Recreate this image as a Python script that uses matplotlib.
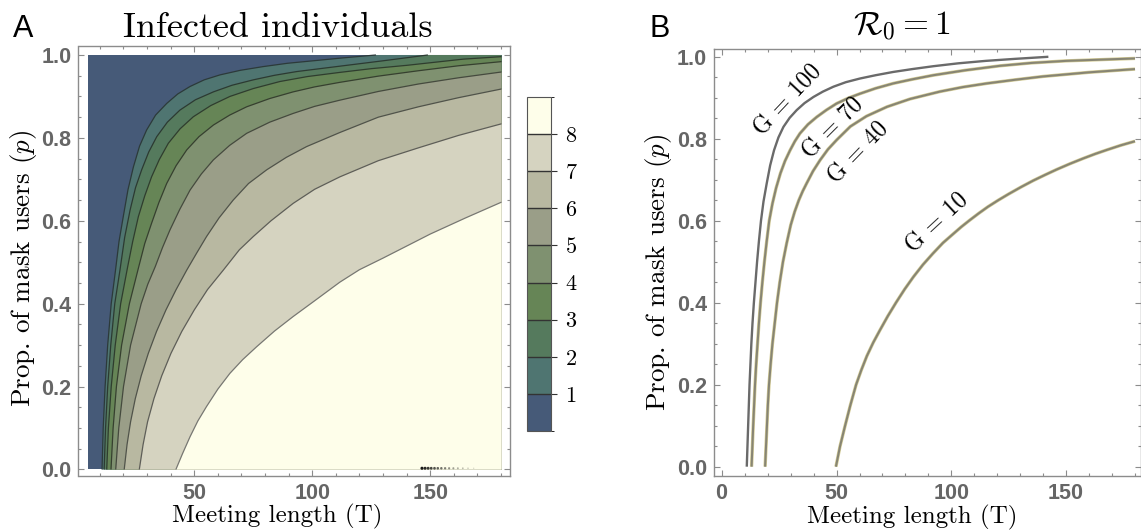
import matplotlib
matplotlib.use("Agg")
import matplotlib.pyplot as plt
import numpy as np
from matplotlib.colors import ListedColormap, BoundaryNorm
from matplotlib.cm import ScalarMappable
from matplotlib.ticker import MultipleLocator

plt.rcParams['mathtext.fontset'] = 'cm'
plt.rcParams['axes.formatter.use_mathtext'] = True

# ---- panel A: level boundaries of infected individuals (T, p) ----
T_MIN, T_MAX = 5.0, 180.2
B1_T = [10.9, 11.4, 12.2, 13.3, 14.8, 16.6, 18.1, 19.9, 21.9, 24.2, 26.8, 29.8, 33.6, 38.3, 43.0,
        48.2, 54.2, 60.9, 69.5, 79.2, 89.5, 100.4, 113.0, 127.0]
B1_P = [0.0, 0.1, 0.2, 0.3, 0.4, 0.48, 0.55, 0.61, 0.675, 0.73, 0.78, 0.819, 0.855, 0.883, 0.906,
        0.924, 0.94, 0.952, 0.963, 0.972, 0.98, 0.986, 0.993, 1.0]
B2_T = [11.8, 12.4, 13.3, 14.6, 16.3, 18.5, 20.5, 22.8, 25.1, 27.7, 30.7, 34.1, 38.6, 43.9, 50.5,
        58.1, 66.0, 75.0, 84.0, 93.4, 111.7, 130.0, 149.0]
B2_P = [0.0, 0.1, 0.2, 0.3, 0.4, 0.481, 0.56, 0.626, 0.68, 0.723, 0.766, 0.803, 0.838, 0.867, 0.892,
        0.911, 0.927, 0.94, 0.951, 0.96, 0.973, 0.986, 1.0]
B3_T = [12.9, 13.6, 14.8, 16.5, 18.8, 21.8, 23.9, 26.3, 29.0, 31.9, 35.2, 39.0, 44.0, 49.6, 57.0,
        65.1, 75.0, 86.3, 98.0, 111.7, 125.0, 140.0, 164.0, 180.2]
B3_P = [0.0, 0.1, 0.2, 0.3, 0.4, 0.49, 0.55, 0.61, 0.66, 0.706, 0.748, 0.787, 0.822, 0.851, 0.878,
        0.9, 0.919, 0.936, 0.948, 0.958, 0.967, 0.975, 0.99, 0.996]
B4_T = [14.7, 15.6, 17.0, 19.2, 22.5, 26.5, 29.0, 31.9, 35.0, 38.3, 42.3, 46.8, 52.0, 58.1, 65.0,
        72.2, 82.0, 91.9, 101.0, 111.7, 128.0, 145.0, 162.0, 180.2]
B4_P = [0.0, 0.1, 0.2, 0.3, 0.4, 0.49, 0.545, 0.594, 0.644, 0.69, 0.733, 0.771, 0.803, 0.831, 0.855,
        0.875, 0.895, 0.911, 0.923, 0.934, 0.949, 0.962, 0.974, 0.984]
B5_T = [16.7, 18.0, 20.0, 23.0, 27.5, 30.3, 33.5, 36.5, 39.7, 43.8, 48.2, 53.0, 58.1, 65.0, 72.2,
        82.0, 91.9, 101.0, 111.7, 128.0, 145.0, 162.0, 180.2]
B5_P = [0.0, 0.1, 0.2, 0.3, 0.4, 0.447, 0.49, 0.535, 0.578, 0.627, 0.674, 0.713, 0.747, 0.782, 0.811,
        0.838, 0.859, 0.876, 0.891, 0.912, 0.93, 0.945, 0.959]
B6_T = [20.3, 21.5, 23.0, 25.0, 27.5, 30.5, 34.0, 38.0, 42.3, 46.8, 51.0, 55.2, 60.5, 66.5, 73.0,
        80.7, 89.0, 97.6, 111.7, 128.0, 145.0, 162.0, 180.2]
B6_P = [0.0, 0.06, 0.115, 0.171, 0.226, 0.28, 0.333, 0.385, 0.434, 0.481, 0.522, 0.562, 0.607, 0.65, 0.69,
        0.723, 0.753, 0.779, 0.813, 0.85, 0.875, 0.897, 0.918]
B7_T = [26.7, 28.3, 30.2, 32.9, 36.2, 40.1, 44.7, 50.0, 55.6, 62.3, 69.1, 75.0, 82.5, 91.9, 101.0,
        111.7, 128.0, 145.0, 162.0, 180.2]
B7_P = [0.0, 0.06, 0.115, 0.171, 0.226, 0.28, 0.333, 0.385, 0.434, 0.481, 0.53, 0.562, 0.6, 0.642, 0.676,
        0.706, 0.745, 0.776, 0.806, 0.834]
B8_T = [42.2, 45.0, 48.2, 51.5, 55.2, 60.0, 65.1, 70.5, 76.4, 84.0, 91.9, 101.0, 111.7, 120.0, 130.0,
        140.0, 150.0, 165.0, 180.2]
B8_P = [0.0, 0.038, 0.079, 0.117, 0.152, 0.194, 0.232, 0.265, 0.296, 0.334, 0.369, 0.407, 0.452, 0.482, 0.51,
        0.539, 0.568, 0.607, 0.645]
BOUNDARIES = [(B1_T, B1_P), (B2_T, B2_P), (B3_T, B3_P), (B4_T, B4_P),
              (B5_T, B5_P), (B6_T, B6_P), (B7_T, B7_P), (B8_T, B8_P)]
LEVELS = list(range(0, 10))
CBAR_TICKS = [1, 2, 3, 4, 5, 6, 7, 8]
# rendering speckles at the bottom edge
SPECKLE_T = [146.5, 147.8, 149.1, 150.4, 151.8, 153.2, 154.7, 156.3, 158.0, 159.8, 161.7, 163.8, 166.0, 168.4]
SPECKLE_P = [0.003] * len(SPECKLE_T)

# ---- panel B: R0 = 1 curves ----
G100_T = [10.8, 11.1, 11.4, 11.7, 12.0, 12.4, 12.8, 13.3, 13.9, 14.6, 15.3, 16.1, 17.0, 18.1, 19.5,
          21.0, 22.7, 24.6, 26.8, 29.5, 32.6, 36.0, 39.9, 44.0, 48.6, 54.0, 60.2, 67.0, 74.7, 83.0,
          92.2, 103.0, 115.0, 128.0, 142.4]
G100_P = [0.0, 0.05, 0.1, 0.15, 0.2, 0.25, 0.3, 0.35, 0.4, 0.45, 0.5, 0.55, 0.6, 0.647, 0.691,
          0.735, 0.772, 0.803, 0.829, 0.851, 0.87, 0.887, 0.902, 0.915, 0.927, 0.938, 0.947, 0.955, 0.963, 0.97,
          0.977, 0.984, 0.99, 0.995, 1.0]
G70_T = [12.9, 13.25, 13.6, 14.0, 14.4, 14.9, 15.5, 16.1, 16.8, 17.6, 18.5, 19.5, 20.6, 22.0, 23.6,
         25.5, 27.5, 29.7, 31.8, 34.0, 37.5, 41.3, 45.5, 50.0, 55.0, 60.2, 67.0, 74.7, 83.0, 92.2,
         106.0, 121.3, 135.0, 150.0, 165.0, 180.2]
G70_P = [0.0, 0.05, 0.1, 0.15, 0.2, 0.25, 0.3, 0.35, 0.4, 0.45, 0.5, 0.55, 0.6, 0.642, 0.68,
         0.716, 0.746, 0.772, 0.794, 0.813, 0.835, 0.853, 0.87, 0.886, 0.899, 0.91, 0.923, 0.935, 0.945, 0.955,
         0.967, 0.978, 0.985, 0.99, 0.993, 0.996]
G40_T = [18.8, 19.2, 19.6, 20.0, 20.5, 21.2, 22.0, 23.0, 24.0, 25.2, 26.6, 28.2, 30.0, 31.7, 33.5,
         35.2, 36.9, 39.7, 42.8, 46.2, 50.0, 56.0, 63.0, 72.0, 82.0, 95.0, 105.0, 115.5, 128.0, 140.0,
         160.0, 180.2]
G40_P = [0.0, 0.05, 0.1, 0.15, 0.2, 0.25, 0.3, 0.35, 0.4, 0.45, 0.5, 0.545, 0.59, 0.622, 0.65,
         0.672, 0.691, 0.721, 0.748, 0.774, 0.797, 0.83, 0.855, 0.878, 0.897, 0.915, 0.926, 0.935, 0.944, 0.952,
         0.962, 0.97]
G10_T = [49.7, 51.5, 53.7, 56.0, 58.5, 60.8, 63.2, 66.0, 68.9, 72.3, 76.0, 79.7, 83.5, 87.7, 92.0,
         96.4, 100.9, 104.4, 108.0, 112.0, 116.0, 120.5, 125.0, 130.4, 135.8, 141.0, 146.0, 151.8, 157.6,
         162.8, 168.0, 174.0, 180.2]
G10_P = [0.0, 0.05, 0.1, 0.15, 0.2, 0.236, 0.27, 0.303, 0.333, 0.367, 0.401, 0.433, 0.463, 0.493, 0.52,
         0.546, 0.568, 0.585, 0.601, 0.618, 0.634, 0.65, 0.665, 0.682, 0.698, 0.712, 0.725, 0.739, 0.752,
         0.763, 0.773, 0.784, 0.794]
G_LABELS = ['G = 100', 'G = 70', 'G = 40', 'G = 10']
G_LABEL_T = [29.0, 48.6, 59.5, 93.9]
G_LABEL_P = [0.894, 0.825, 0.764, 0.593]

# styles
BAND_COLORS = ['#465a78', '#4f7571', '#557a5d', '#668556', '#7f9170',
               '#9a9e88', '#b8b8a1', '#d5d3c0', '#fefeea']
LINE_COLORS = ['#2c3a3a', '#2c3a32', '#2f3d2e', '#36402f', '#454a3e', '#50534a', '#5e5e58', '#777772']
CURVE_COLORS = ['#6a6a6a', '#878574', '#878574', '#878574']
TICK_FONT = dict(family='Liberation Sans', weight='bold', size=15.5, color='#666666')
SERIF = 'cmr10'
W, H = 1141, 531


def style_axes(ax):
    for s in ax.spines.values():
        s.set_color('#8c8c8c')
        s.set_linewidth(1.0)
    ax.tick_params(which='both', direction='in', top=True, right=True,
                   colors='#8c8c8c', width=0.8)
    ax.tick_params(which='major', length=4.5, pad=5)
    ax.tick_params(which='minor', length=2.5)
    ax.yaxis.set_major_locator(MultipleLocator(0.2))
    ax.yaxis.set_minor_locator(MultipleLocator(0.05))
    ax.xaxis.set_minor_locator(MultipleLocator(10))
    ax.set_yticklabels([f'{v:.1f}' for v in ax.get_yticks()])
    for lab in ax.get_xticklabels() + ax.get_yticklabels():
        lab.set_fontfamily(TICK_FONT['family'])
        lab.set_fontweight(TICK_FONT['weight'])
        lab.set_fontsize(TICK_FONT['size'])
        lab.set_color(TICK_FONT['color'])


fig = plt.figure(figsize=(W / 100, H / 100), dpi=100)

# ---------------- panel A ----------------
axA = fig.add_axes([78.5 / W, 1 - 476 / H, (510 - 78.5) / W, (476 - 45.7) / H])
axA.fill([T_MIN, T_MAX, T_MAX, T_MIN], [0, 0, 1, 1], color=BAND_COLORS[0], lw=0)
for k, (bt, bp) in enumerate(BOUNDARIES):
    xs = list(bt) + [T_MAX, T_MAX]
    ys = list(bp) + [bp[-1], 0.0]
    axA.fill(xs, ys, color=BAND_COLORS[k + 1], lw=0)
for k, (bt, bp) in enumerate(BOUNDARIES):
    axA.plot(bt, bp, color=LINE_COLORS[k], lw=0.9, solid_capstyle='butt', solid_joinstyle='round')
axA.scatter(SPECKLE_T, SPECKLE_P, s=np.linspace(5, 1, len(SPECKLE_T)),
            c=[(0, 0, 0, a) for a in np.linspace(0.9, 0.15, len(SPECKLE_T))], lw=0)
axA.set_xlim(0.93, 183.8)
axA.set_ylim(-0.0157, 1.0224)
axA.set_xticks([50, 100, 150])
axA.set_yticks([0, 0.2, 0.4, 0.6, 0.8, 1.0])
style_axes(axA)

cax = fig.add_axes([527 / W, 1 - 431 / H, 24 / W, 334 / H])
sm = ScalarMappable(norm=BoundaryNorm(LEVELS, len(BAND_COLORS)), cmap=ListedColormap(BAND_COLORS))
cb = fig.colorbar(sm, cax=cax, ticks=CBAR_TICKS, drawedges=True)
cb.outline.set_edgecolor('#555555')
cb.outline.set_linewidth(0.8)
cb.dividers.set_color('#333333')
cb.dividers.set_linewidth(1.0)
cax.tick_params(length=4, width=0.8, color='#333333', pad=6)
for lab in cax.get_yticklabels():
    lab.set_fontfamily(SERIF)
    lab.set_fontsize(16)

# ---------------- panel B ----------------
axB = fig.add_axes([714 / W, 1 - 475.7 / H, (1140.5 - 714) / W, (475.7 - 49) / H])
for (ct, cp), col in zip([(G100_T, G100_P), (G70_T, G70_P), (G40_T, G40_P), (G10_T, G10_P)], CURVE_COLORS):
    if col != CURVE_COLORS[0]:
        axB.plot(ct, cp, color='#d4cc96', lw=2.4, solid_capstyle='butt')
        axB.plot(ct, cp, color=col, lw=1.5, solid_capstyle='butt')
    else:
        axB.plot(ct, cp, color=col, lw=1.7, solid_capstyle='butt')
for txt, lt, lp, rot in zip(G_LABELS, G_LABEL_T, G_LABEL_P, [47, 45, 46, 43]):
    axB.text(lt, lp, txt, rotation=rot, rotation_mode='anchor', ha='center', va='center',
             fontfamily=SERIF, fontsize=17)
axB.set_xlim(-3.5, 182.6)
axB.set_ylim(-0.022, 1.019)
axB.set_xticks([0, 50, 100, 150])
axB.set_yticks([0, 0.2, 0.4, 0.6, 0.8, 1.0])
style_axes(axB)

# ---------------- texts ----------------
fig.text(13.3 / W, 1 - 36.7 / H, 'A', fontfamily='Liberation Sans', fontsize=22, va='baseline')
fig.text(650 / W, 1 - 36.7 / H, 'B', fontfamily='Liberation Sans', fontsize=22, va='baseline')
fig.text(277.5 / W, 1 - 36.7 / H, 'Infected individuals', fontfamily=SERIF, fontsize=26,
         ha='center', va='baseline')
fig.text(901.7 / W, 1 - 34.3 / H, r'$\mathcal{R}_0 = 1$', fontsize=24, ha='center', va='baseline')
fig.text(276.7 / W, 1 - 522 / H, 'Meeting length (T)', fontfamily=SERIF, fontsize=18,
         ha='center', va='baseline')
fig.text(911.7 / W, 1 - 523.3 / H, 'Meeting length (T)', fontfamily=SERIF, fontsize=18,
         ha='center', va='baseline')
fig.text(24 / W, 1 - 268.5 / H, r'Prop. of mask users ($p$)', fontfamily=SERIF, fontsize=19.5,
         rotation=90, ha='center', va='center')
fig.text(658 / W, 1 - 272 / H, r'Prop. of mask users ($p$)', fontfamily=SERIF, fontsize=19.5,
         rotation=90, ha='center', va='center')

fig.savefig('out.png', dpi=100)
